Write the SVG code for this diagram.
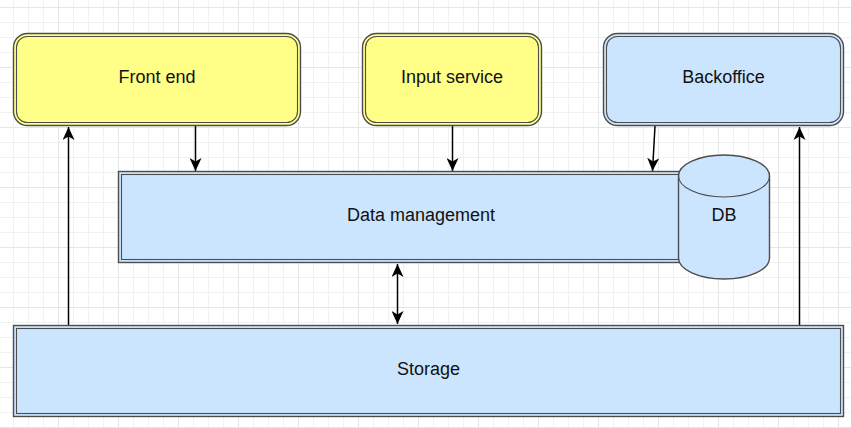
<svg xmlns="http://www.w3.org/2000/svg" width="851" height="428" viewBox="0 0 851 428">
  <style>
    .lbl { font-family: "Liberation Sans", Arial, sans-serif; font-size: 18px; fill: #111; text-anchor: middle; }
    .yellow { fill: #ffff88; }
    .blue { fill: #cce5ff; }
    .outer { stroke: #4d4d4d; stroke-width: 1.4; }
    .inner { fill: none; stroke: #4d4d4d; stroke-width: 1.1; }
    .edge { fill: none; stroke: #000; stroke-width: 1.5; }
  </style>
  <defs>
    <pattern id="gridMinor" patternUnits="userSpaceOnUse" x="-2" y="7" width="15" height="15">
      <path d="M0.5 0 V15 M0 0.5 H15" stroke="#f1f1f1" stroke-width="1" fill="none"/>
    </pattern>
    <pattern id="gridMajor" patternUnits="userSpaceOnUse" x="-2" y="7" width="60" height="60">
      <path d="M0.5 0 V60 M0 0.5 H60" stroke="#e6e6e6" stroke-width="1" fill="none"/>
    </pattern>
    <marker id="arrow" viewBox="0 0 13 12" refX="13" refY="6" markerWidth="13" markerHeight="12" markerUnits="userSpaceOnUse" orient="auto-start-reverse">
      <path d="M0,0 L13,6 L0,12 L3.5,6 Z" fill="#000"/>
    </marker>
  </defs>

  <!-- canvas grid -->
  <rect width="851" height="428" fill="#fff"/>
  <rect width="851" height="428" fill="url(#gridMinor)"/>
  <rect width="851" height="428" fill="url(#gridMajor)"/>

  <!-- connectors -->
  <g id="connectors">
    <line class="edge" x1="68.5" y1="325" x2="68.5" y2="127" marker-end="url(#arrow)"/>
    <line class="edge" x1="195.5" y1="126" x2="195.5" y2="171" marker-end="url(#arrow)"/>
    <line class="edge" x1="452.5" y1="126" x2="452.5" y2="171" marker-end="url(#arrow)"/>
    <line class="edge" x1="655" y1="126" x2="652.5" y2="171" marker-end="url(#arrow)"/>
    <line class="edge" x1="799.5" y1="325" x2="799.5" y2="127" marker-end="url(#arrow)"/>
    <line class="edge" x1="397.5" y1="264" x2="397.5" y2="324" marker-start="url(#arrow)" marker-end="url(#arrow)"/>
  </g>

  <!-- top row -->
  <g id="front-end">
    <rect class="yellow outer" x="13.5" y="33.5" width="287" height="92" rx="14"/>
    <rect class="inner" x="16.5" y="36.5" width="281" height="86" rx="11"/>
    <text class="lbl" x="157" y="83">Front end</text>
  </g>
  <g id="input-service">
    <rect class="yellow outer" x="362.5" y="33.5" width="179" height="92" rx="14"/>
    <rect class="inner" x="365.5" y="36.5" width="173" height="86" rx="11"/>
    <text class="lbl" x="452" y="83">Input service</text>
  </g>
  <g id="backoffice">
    <rect class="blue outer" x="603.5" y="33.5" width="240" height="92" rx="14"/>
    <rect class="inner" x="606.5" y="36.5" width="234" height="86" rx="11"/>
    <text class="lbl" x="723.5" y="83">Backoffice</text>
  </g>

  <!-- middle tier -->
  <g id="data-management">
    <rect class="blue outer" x="118.5" y="171.5" width="605" height="91"/>
    <rect class="inner" x="121.5" y="174.5" width="599" height="85"/>
    <text class="lbl" x="421" y="220.5">Data management</text>
  </g>
  <g id="db">
    <path class="blue outer" d="M678.5,176 A45.5,21 0 0,1 769.5,176 L769.5,258 A45.5,21 0 0,1 678.5,258 Z"/>
    <path class="inner" stroke-width="1.4" d="M678.5,176 A45.5,21 0 0,0 769.5,176"/>
    <text class="lbl" x="724" y="221">DB</text>
  </g>

  <!-- bottom tier -->
  <g id="storage">
    <rect class="blue outer" x="13.5" y="325.5" width="830" height="91"/>
    <rect class="inner" x="16.5" y="328.5" width="824" height="85"/>
    <text class="lbl" x="428.5" y="374.5">Storage</text>
  </g>
</svg>
